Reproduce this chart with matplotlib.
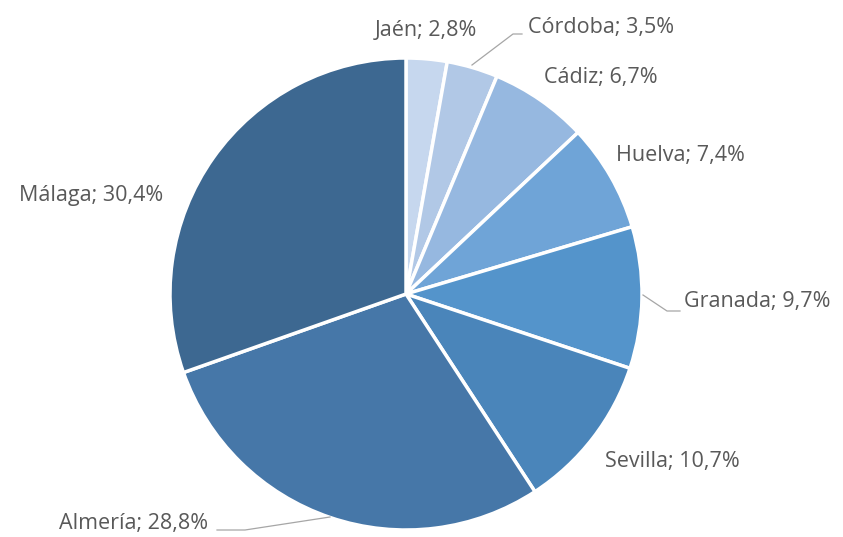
# Pie chart: share by province (Andalucía)

import matplotlib.pyplot as plt

provincias = ["Jaén", "Córdoba", "Cádiz", "Huelva", "Granada", "Sevilla", "Almería", "Málaga"]
porcentajes = [2.8, 3.5, 6.7, 7.4, 9.7, 10.7, 28.8, 30.4]
colores = ["#c6d7ee", "#b1c8e6", "#96b8e0", "#6fa4d7", "#5494cb", "#4a85ba", "#4677a8", "#3d6891"]

# label positions in pixels (x, y from top)
label_pos = [(426, 31), (601, 27), (601, 77), (680, 155), (757, 301), (672, 461), (134, 524), (91, 196)]

W, H = 843, 537
fig = plt.figure(figsize=(W / 100, H / 100), dpi=100)
ax = fig.add_axes([0, 0, 1, 1])

cx, cy, r = 406, H - 294, 236
ax.pie(porcentajes, colors=colores, startangle=90, counterclock=False,
       center=(cx, cy), radius=r, frame=True,
       wedgeprops=dict(edgecolor="white", linewidth=2.5))
ax.set_xlim(0, W)
ax.set_ylim(0, H)
ax.set_aspect("equal")
ax.axis("off")

for name, val, (x, y) in zip(provincias, porcentajes, label_pos):
    txt = "%s; %s%%" % (name, ("%.1f" % val).replace(".", ","))
    ax.text(x, H - y, txt, ha="center", va="center", fontsize=15.5,
            family="Open Sans", color="#595959")

# leader lines
gris = "#a6a6a6"
ax.plot([472, 513, 522], [H - 65, H - 34, H - 34], color=gris, lw=0.9)
ax.plot([643, 667, 680], [H - 295, H - 311, H - 311], color=gris, lw=0.9)
ax.plot([217, 245, 330], [H - 530, H - 530, H - 517], color=gris, lw=0.9)

plt.savefig("out.png", dpi=100)
